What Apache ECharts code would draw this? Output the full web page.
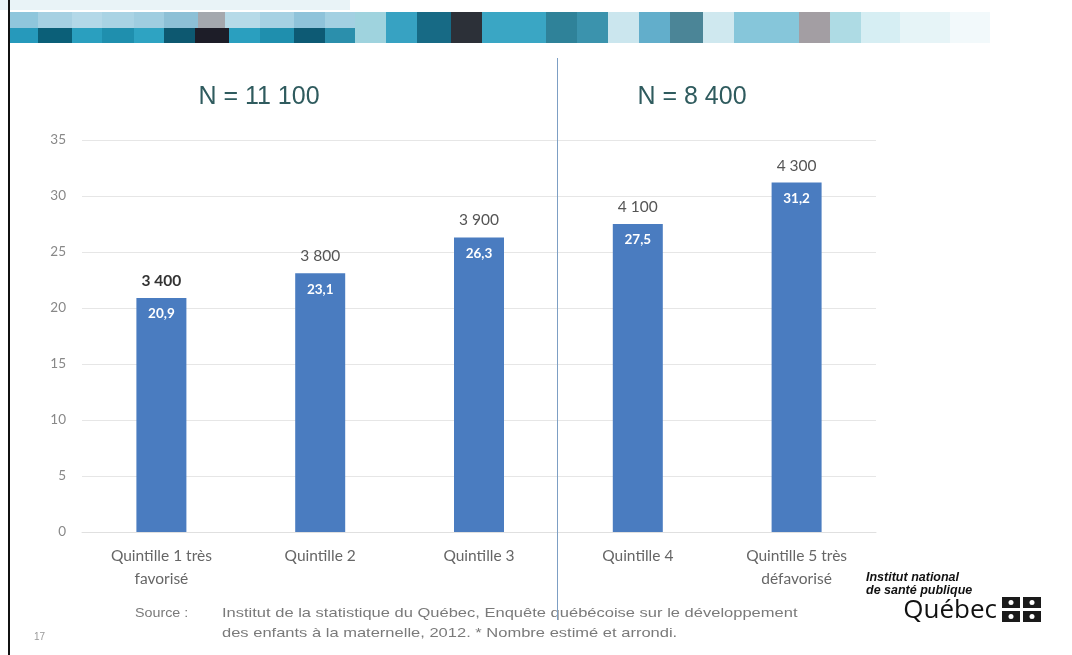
<!DOCTYPE html>
<html><head><meta charset="utf-8">
<script src="https://cdn.jsdelivr.net/npm/echarts@6/dist/echarts.min.js"></script>
<style>html,body{margin:0;padding:0;background:#fff}#c{width:1072px;height:655px}</style>
</head><body><div id="c"></div>
<script>
const categories = ['Quintille 1 très\nfavorisé', 'Quintille 2', 'Quintille 3', 'Quintille 4', 'Quintille 5 très\ndéfavorisé'];
const percentages = [20.9, 23.1, 26.3, 27.5, 31.2];
const counts = ['3 400', '3 800', '3 900', '4 100', '4 300'];
const groupTitles = ['N = 11 100', 'N = 8 400'];
const yTicks = [0, 5, 10, 15, 20, 25, 30, 35];

const chart = echarts.init(document.getElementById('c'));

const bannerBlocks = [
  [0,0,350,10,'#e9f3f7'],
  [10,12,28,16,'#8fc6dc'],[38,12,34,16,'#a6d0e2'],[72,12,30,16,'#b3d8e8'],[102,12,32,16,'#a9d3e4'],[134,12,30,16,'#9fcde0'],
  [164,12,34,16,'#8dc0d6'],[198,12,27,16,'#a4a8ae'],[225,12,35,16,'#b6dae8'],[260,12,34,16,'#a6d1e3'],[294,12,31,16,'#8fc3da'],[325,12,30,16,'#a3d0e2'],
  [10,28,28,15,'#2699bb'],[38,28,34,15,'#0b5f78'],[72,28,30,15,'#2a9fbf'],[102,28,32,15,'#1f8fae'],[134,28,30,15,'#2ea3c2'],
  [164,28,31,15,'#0d5870'],[195,28,34,15,'#1d1d28'],[229,28,31,15,'#2a9fbf'],[260,28,34,15,'#1f8fae'],[294,28,31,15,'#0d5a74'],[325,28,30,15,'#2b8fac'],
  [355,12,31,31,'#9fd3de'],[386,12,31,31,'#37a2c2'],[417,12,34,31,'#176a85'],[451,12,31,31,'#2c3038'],
  [482,12,64,31,'#3aa6c4'],[546,12,31,31,'#2f8299'],[577,12,31,31,'#3b93ad'],[608,12,31,31,'#cbe6ee'],
  [639,12,31,31,'#62aecb'],[670,12,33,31,'#4b8597'],[703,12,31,31,'#cfe8ef'],[734,12,65,31,'#86c6da'],
  [799,12,31,31,'#a39ea3'],[830,12,31,31,'#aedbe4'],[861,12,39,31,'#d6eef3'],[900,12,50,31,'#e6f4f7'],[950,12,40,31,'#f2f9fb']
];

const graphics = bannerBlocks.map(b => ({type:'rect', shape:{x:b[0],y:b[1],width:b[2],height:b[3]}, style:{fill:b[4]}, silent:true}));
const srcFont = '13px "Liberation Sans"';
graphics.push(
  {type:'line', shape:{x1:9,y1:0,x2:9,y2:655}, style:{stroke:'#111', lineWidth:2}},
  {type:'line', z:10, shape:{x1:557.5,y1:58,x2:557.5,y2:620}, style:{stroke:'#7d9fc4', lineWidth:1}},
  {type:'text', x:259, y:97, style:{text:groupTitles[0], font:'25px "Liberation Sans"', fill:'#2f5b5e', align:'center', verticalAlign:'middle'}},
  {type:'text', x:692, y:97, style:{text:groupTitles[1], font:'25px "Liberation Sans"', fill:'#2f5b5e', align:'center', verticalAlign:'middle'}},
  {type:'text', x:135, y:613, scaleX:1.1, style:{text:'Source :', font:srcFont, fill:'#7a7a7a', verticalAlign:'middle'}},
  {type:'text', x:222, y:613, scaleX:1.27, style:{text:'Institut de la statistique du Québec, Enquête québécoise sur le développement', font:srcFont, fill:'#7a7a7a', verticalAlign:'middle'}},
  {type:'text', x:222, y:633, scaleX:1.27, style:{text:'des enfants à la maternelle, 2012. * Nombre estimé et arrondi.', font:srcFont, fill:'#7a7a7a', verticalAlign:'middle'}},
  {type:'text', x:34, y:637, style:{text:'17', font:'10px "Liberation Sans"', fill:'#999', verticalAlign:'middle'}},
  {type:'text', x:866, y:578, style:{text:'Institut national', font:'italic bold 12.5px "Liberation Sans"', fill:'#111', verticalAlign:'middle'}},
  {type:'text', x:866, y:591, style:{text:'de santé publique', font:'italic bold 12.5px "Liberation Sans"', fill:'#111', verticalAlign:'middle'}},
  {type:'text', x:997, y:611, style:{text:'Québec', font:'26px "Open Sans"', fill:'#111', align:'right', verticalAlign:'middle'}},
  {type:'rect', shape:{x:1002,y:597,width:18,height:11}, style:{fill:'#1a1a1a'}},
  {type:'rect', shape:{x:1023,y:597,width:18,height:11}, style:{fill:'#1a1a1a'}},
  {type:'rect', shape:{x:1002,y:611,width:18,height:11}, style:{fill:'#1a1a1a'}},
  {type:'rect', shape:{x:1023,y:611,width:18,height:11}, style:{fill:'#1a1a1a'}},
  {type:'circle', shape:{cx:1011,cy:602.5,r:2.5}, style:{fill:'#fff'}},
  {type:'circle', shape:{cx:1032,cy:602.5,r:2.5}, style:{fill:'#fff'}},
  {type:'circle', shape:{cx:1011,cy:616.5,r:2.5}, style:{fill:'#fff'}},
  {type:'circle', shape:{cx:1032,cy:616.5,r:2.5}, style:{fill:'#fff'}}
);

chart.setOption({
  animation:false,
  grid:{left:82, right:196, top:140, bottom:123},
  xAxis:{
    type:'category', data:categories,
    axisLine:{show:true, lineStyle:{color:'#e0e0e0'}},
    axisTick:{show:false},
    axisLabel:{color:'#666', fontFamily:'Lato', fontSize:15.5, lineHeight:23, margin:12, interval:0}
  },
  yAxis:{
    type:'value', min:0, max:35, interval:5,
    axisLine:{show:false}, axisTick:{show:false},
    splitLine:{lineStyle:{color:'#e6e6e6'}},
    axisLabel:{color:'#888', fontFamily:'Lato', fontSize:13.5, margin:16,
      formatter: v => yTicks.includes(v) ? String(v) : ''}
  },
  series:[
    {
      type:'bar', data:percentages, barWidth:50,
      itemStyle:{color:'#4a7cc0'},
      label:{show:true, position:'insideTop', distance:9, color:'#fff', fontFamily:'Lato', fontWeight:'bold', fontSize:13.5,
        formatter: p => p.value.toFixed(1).replace('.', ',')}
    },
    {
      type:'bar', data:percentages, barWidth:50, barGap:'-100%',
      itemStyle:{color:'rgba(0,0,0,0)'},
      label:{show:true, position:'top', distance:9, fontFamily:'Lato', fontSize:15.5, color:'#555',
        formatter: p => p.dataIndex === 0 ? '{b|' + counts[p.dataIndex] + '}' : counts[p.dataIndex],
        rich:{b:{fontFamily:'Lato', fontSize:15.5, fontWeight:'bold', color:'#333'}}}
    }
  ],
  graphic: graphics
});
</script></body></html>
